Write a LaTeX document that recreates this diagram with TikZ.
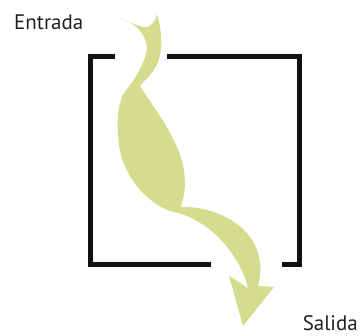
\documentclass[tikz,border=0pt]{standalone}
\usepackage{fontspec}
\setmainfont{PT Sans}
\usepackage{xcolor}
\definecolor{flow}{HTML}{D4DC8E}
\definecolor{frame}{HTML}{111111}
\definecolor{dtext}{HTML}{231F20}

\begin{document}
\begin{tikzpicture}[x=1pt,y=-1pt]
        \useasboundingbox (0,0) rectangle (360,336);
        % open box, two bracket halves
        \draw[frame,line width=4.5pt,miter limit=10] (115,56.5) -- (90.5,56.5) -- (90.5,264.5) -- (211,264.5);
        \draw[frame,line width=4.5pt,miter limit=10] (167,56.5) -- (299.5,56.5) -- (299.5,264.5) -- (282,264.5);
        % the flow through it
        \fill[flow] (118,17) .. controls (130,22) and (140,28) .. (148,27)
          .. controls (153,24) and (156,20) .. (157,14)
          .. controls (163,35) and (163,55) .. (155,68)
          .. controls (150,76) and (143,82) .. (140,86)
          .. controls (152,105) and (176,135) .. (183,165)
          .. controls (187,185) and (184,200) .. (180,207)
          .. controls (208,206) and (238,218) .. (252,240)
          .. controls (263,257) and (261,275) .. (258,286)
          -- (274,287) -- (243,326) -- (229,276) -- (248,288)
          .. controls (243,265) and (225,240) .. (205,226)
          .. controls (193,218) and (182,213) .. (173,212)
          .. controls (150,205) and (124,180) .. (119,145)
          .. controls (115,115) and (120,95) .. (128,88)
          .. controls (135,78) and (146,62) .. (147,48)
          .. controls (146,32) and (133,22) .. (118,17) -- cycle;
        \node[anchor=base west,inner sep=0pt,text=dtext,font=\fontsize{21}{25}\selectfont] (entrada) at (14,30) {Entrada};
        \node[anchor=base east,inner sep=0pt,text=dtext,font=\fontsize{21}{25}\selectfont] (salida) at (358,331) {Salida};
      \end{tikzpicture}
\end{document}
